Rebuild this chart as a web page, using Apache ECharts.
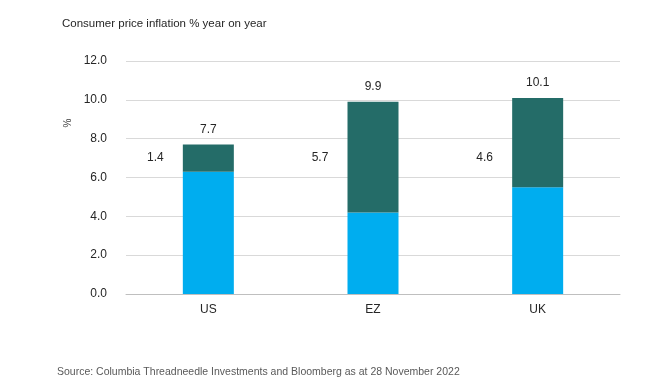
<!DOCTYPE html>
<html>
<head>
<meta charset="utf-8">
<style>html,body{margin:0;padding:0;background:#fff;}#c{width:672px;height:386px;}</style>
<script src="https://cdn.jsdelivr.net/npm/echarts@6/dist/echarts.min.js"></script>
</head>
<body>
<div id="c"></div>
<script>
const categories = ['US', 'EZ', 'UK'];
const baseValues = [6.3, 4.2, 5.5];
const increaseValues = [1.4, 5.7, 4.6];
const totalValues = [7.7, 9.9, 10.1];
const yTicks = [0, 2, 4, 6, 8, 10, 12];
const titleText = 'Consumer price inflation % year on year';
const sourceText = 'Source: Columbia Threadneedle Investments and Bloomberg as at 28 November 2022';

const FONT = '"Liberation Sans", Arial, sans-serif';
const labelLevel = 7.0;

const chart = echarts.init(document.getElementById('c'), null, {renderer: 'canvas'});
chart.setOption({
  animation: false,
  backgroundColor: '#fff',
  textStyle: {fontFamily: FONT},
  grid: {left: 126, right: 52, top: 61, bottom: 92, containLabel: false},
  title: {
    text: titleText, left: 57, top: 13,
    textStyle: {fontFamily: FONT, fontSize: 11.5, fontWeight: 'normal', color: '#262626'}
  },
  graphic: [
    {type: 'text', left: 57, top: 367, style: {text: sourceText, font: '10.5px ' + FONT, fill: '#595959'}},
    {type: 'text', x: 68, y: 123, rotation: Math.PI / 2, style: {text: '%', font: '10px ' + FONT, fill: '#404040', align: 'center', verticalAlign: 'middle'}}
  ],
  xAxis: {
    type: 'category', data: categories,
    axisLine: {lineStyle: {color: '#bfbfbf', width: 1}},
    axisTick: {show: false},
    axisLabel: {color: '#262626', fontSize: 12, margin: 10, fontFamily: FONT}
  },
  yAxis: {
    type: 'value', min: yTicks[0], max: yTicks[yTicks.length - 1], interval: 2,
    axisLine: {show: false}, axisTick: {show: false},
    axisLabel: {color: '#262626', fontSize: 12, margin: 19, fontFamily: FONT, formatter: v => v.toFixed(1)},
    splitLine: {lineStyle: {color: '#d9d9d9', width: 1}}
  },
  series: [
    {type: 'bar', stack: 'a', data: baseValues, barWidth: 51, itemStyle: {color: '#00adef'}},
    {type: 'bar', stack: 'a', data: increaseValues, barWidth: 51, itemStyle: {color: '#246c68'},
      label: {show: true, position: 'top', distance: 9, color: '#262626', fontSize: 12, fontFamily: FONT,
        formatter: p => totalValues[p.dataIndex].toFixed(1)}},
    {type: 'scatter', symbolSize: 0, silent: true, itemStyle: {opacity: 1, color: 'transparent'},
      data: categories.map((c, i) => ({value: [c, labelLevel], label: {formatter: increaseValues[i].toFixed(1)}})),
      label: {show: true, position: 'inside', offset: [-53, 0], color: '#262626', opacity: 1, textBorderWidth: 0, fontSize: 12, fontFamily: FONT}}
  ]
});
</script>
</body>
</html>
